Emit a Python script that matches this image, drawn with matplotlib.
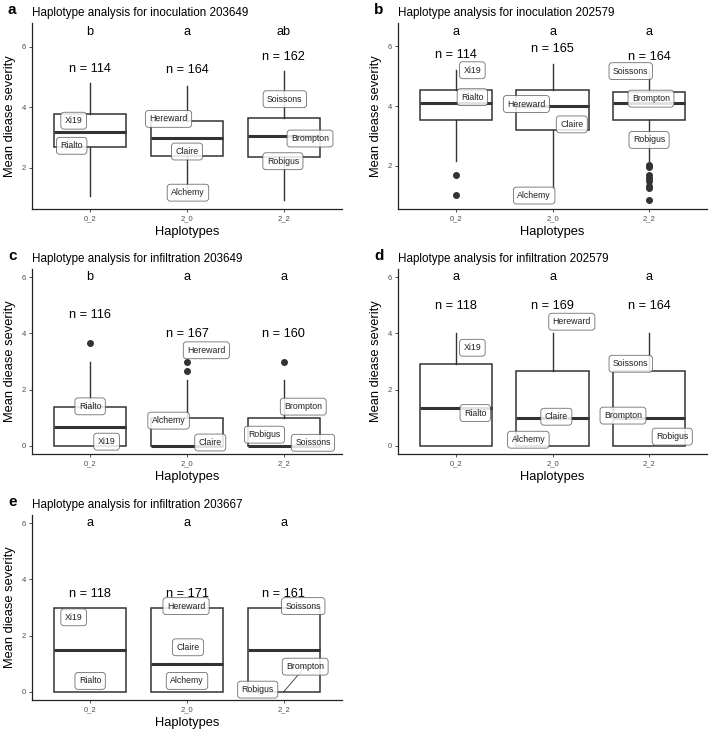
import matplotlib
matplotlib.use('Agg')
import matplotlib.pyplot as plt

plt.rcParams['font.family'] = ['Liberation Sans', 'DejaVu Sans']

haplotypes = ['0_2', '2_0', '2_2']
cultivars = ['Xi19', 'Rialto', 'Hereward', 'Claire', 'Alchemy', 'Soissons', 'Brompton', 'Robigus']

# ---- panel a ----
a_title = 'Haplotype analysis for inoculation 203649'
a_whislo = [1.07, 1.21, 0.92]
a_q1 = [2.68, 2.37, 2.34]
a_med = [3.19, 2.97, 3.05]
a_q3 = [3.76, 3.54, 3.65]
a_whishi = [4.79, 4.70, 5.18]
a_fliers = [[], [], []]
a_letters = ['b', 'a', 'ab']
a_letter_y = [6.48, 6.48, 6.48]
a_n = [114, 164, 162]
a_n_y = [5.25, 5.21, 5.65]
a_lab_x = [0.83, 0.81, 1.81, 2.00, 2.01, 3.01, 3.27, 2.99]
a_lab_y = [3.55, 2.72, 3.61, 2.53, 1.17, 4.26, 2.96, 2.21]
a_ylim = [0.63, 6.78]

# ---- panel b ----
b_title = 'Haplotype analysis for inoculation 202579'
b_whislo = [2.15, 1.25, 2.16]
b_q1 = [3.53, 3.21, 3.53]
b_med = [4.12, 4.01, 4.10]
b_q3 = [4.54, 4.55, 4.46]
b_whishi = [5.22, 5.42, 5.16]
b_fliers = [[1.70, 1.03], [], [2.04, 1.96, 1.71, 1.60, 1.50, 1.33, 1.25, 0.85]]
b_letters = ['a', 'a', 'a']
b_letter_y = [6.47, 6.47, 6.47]
b_n = [114, 165, 164]
b_n_y = [5.70, 5.91, 5.64]
b_lab_x = [1.17, 1.17, 1.73, 2.20, 1.81, 2.81, 3.02, 3.00]
b_lab_y = [5.20, 4.30, 4.07, 3.39, 1.01, 5.17, 4.25, 2.87]
b_ylim = [0.56, 6.78]

# ---- panel c ----
c_title = 'Haplotype analysis for infiltration 203649'
c_whislo = [0.0, 0.0, 0.0]
c_q1 = [0.0, 0.0, 0.0]
c_med = [0.67, 0.0, 0.0]
c_q3 = [1.38, 1.0, 1.0]
c_whishi = [3.0, 2.33, 2.33]
c_fliers = [[3.67], [3.0, 2.67], [3.0]]
c_letters = ['b', 'a', 'a']
c_letter_y = [6.0, 6.0, 6.0]
c_n = [116, 167, 160]
c_n_y = [4.66, 3.99, 3.99]
c_lab_x = [1.17, 1.00, 2.20, 2.24, 1.81, 3.30, 3.20, 2.80]
c_lab_y = [0.14, 1.40, 3.40, 0.11, 0.89, 0.10, 1.39, 0.39]
c_ylim = [-0.3, 6.3]

# ---- panel d ----
d_title = 'Haplotype analysis for infiltration 202579'
d_whislo = [0.0, 0.0, 0.0]
d_q1 = [0.0, 0.0, 0.0]
d_med = [1.33, 1.0, 1.0]
d_q3 = [2.92, 2.67, 2.67]
d_whishi = [4.0, 4.0, 4.0]
d_fliers = [[], [], []]
d_letters = ['a', 'a', 'a']
d_letter_y = [6.0, 6.0, 6.0]
d_n = [118, 169, 164]
d_n_y = [4.99, 4.99, 4.99]
d_lab_x = [1.17, 1.20, 2.20, 2.04, 1.75, 2.81, 2.73, 3.24]
d_lab_y = [3.49, 1.16, 4.42, 1.03, 0.21, 2.92, 1.07, 0.32]
d_ylim = [-0.3, 6.3]

# ---- panel e ----
e_title = 'Haplotype analysis for infiltration 203667'
e_whislo = [0.0, 0.0, 0.0]
e_q1 = [0.0, 0.0, 0.0]
e_med = [1.5, 1.0, 1.5]
e_q3 = [3.0, 3.0, 3.0]
e_whishi = [3.0, 3.0, 3.0]
e_fliers = [[], [], []]
e_letters = ['a', 'a', 'a']
e_letter_y = [6.0, 6.0, 6.0]
e_n = [118, 171, 161]
e_n_y = [3.48, 3.48, 3.48]
e_lab_x = [0.83, 1.00, 1.99, 2.01, 2.00, 3.20, 3.22, 2.73]
e_lab_y = [2.65, 0.38, 3.05, 1.58, 0.38, 3.05, 0.89, 0.07]
e_ylim = [-0.3, 6.3]
e_segments = {'Brompton': (3.0, 0.0)}

panels = [
    dict(tag='a', title=a_title, whislo=a_whislo, q1=a_q1, med=a_med, q3=a_q3, whishi=a_whishi,
         fliers=a_fliers, letters=a_letters, letter_y=a_letter_y, n=a_n, n_y=a_n_y,
         lab_x=a_lab_x, lab_y=a_lab_y, ylim=a_ylim, seg={}, rect=(32, 342, 23, 209)),
    dict(tag='b', title=b_title, whislo=b_whislo, q1=b_q1, med=b_med, q3=b_q3, whishi=b_whishi,
         fliers=b_fliers, letters=b_letters, letter_y=b_letter_y, n=b_n, n_y=b_n_y,
         lab_x=b_lab_x, lab_y=b_lab_y, ylim=b_ylim, seg={}, rect=(398, 707, 23, 209)),
    dict(tag='c', title=c_title, whislo=c_whislo, q1=c_q1, med=c_med, q3=c_q3, whishi=c_whishi,
         fliers=c_fliers, letters=c_letters, letter_y=c_letter_y, n=c_n, n_y=c_n_y,
         lab_x=c_lab_x, lab_y=c_lab_y, ylim=c_ylim, seg={}, rect=(32, 342, 269, 454)),
    dict(tag='d', title=d_title, whislo=d_whislo, q1=d_q1, med=d_med, q3=d_q3, whishi=d_whishi,
         fliers=d_fliers, letters=d_letters, letter_y=d_letter_y, n=d_n, n_y=d_n_y,
         lab_x=d_lab_x, lab_y=d_lab_y, ylim=d_ylim, seg={}, rect=(398, 707, 269, 454)),
    dict(tag='e', title=e_title, whislo=e_whislo, q1=e_q1, med=e_med, q3=e_q3, whishi=e_whishi,
         fliers=e_fliers, letters=e_letters, letter_y=e_letter_y, n=e_n, n_y=e_n_y,
         lab_x=e_lab_x, lab_y=e_lab_y, ylim=e_ylim, seg=e_segments, rect=(32, 342, 515, 700)),
]

W, H = 709, 731
fig = plt.figure(figsize=(W / 100, H / 100), dpi=100)
dark = '#333333'

for p in panels:
    l, r, t, b = p['rect']
    ax = fig.add_axes([l / W, 1 - b / H, (r - l) / W, (b - t) / H])
    stats = []
    for i in range(3):
        stats.append(dict(whislo=p['whislo'][i], q1=p['q1'][i], med=p['med'][i],
                          q3=p['q3'][i], whishi=p['whishi'][i], fliers=p['fliers'][i]))
    ax.bxp(stats, positions=[1, 2, 3], widths=0.75, showcaps=False, showfliers=True,
           patch_artist=True,
           boxprops=dict(facecolor='white', edgecolor=dark, linewidth=1.1),
           medianprops=dict(color=dark, linewidth=2.2, solid_capstyle='butt'),
           whiskerprops=dict(color=dark, linewidth=1.0),
           flierprops=dict(marker='o', markerfacecolor=dark, markeredgecolor=dark,
                           markersize=4, linestyle='none'))
    for i in range(3):
        ax.text(i + 1, p['letter_y'][i], p['letters'][i], ha='center', va='center',
                fontsize=9.2, color='black')
        ax.text(i + 1, p['n_y'][i], f"n = {p['n'][i]}", ha='center', va='center',
                fontsize=9.2, color='black')
    for j, name in enumerate(cultivars):
        if name in p['seg']:
            sx, sy = p['seg'][name]
            ax.plot([p['lab_x'][j], sx], [p['lab_y'][j], sy], color=dark, lw=0.6, zorder=4)
        ax.text(p['lab_x'][j], p['lab_y'][j], name, ha='center', va='center',
                fontsize=6.3, color='#222222', zorder=5,
                bbox=dict(boxstyle='round,pad=0.45,rounding_size=0.35', facecolor='white',
                          edgecolor='#555555', linewidth=0.6, alpha=0.85))
    ax.set_xticks([1, 2, 3])
    ax.set_xticklabels(haplotypes)
    ax.set_yticks([0, 2, 4, 6])
    ax.set_xlim(0.4, 3.6)
    ax.set_ylim(*p['ylim'])
    ax.tick_params(labelsize=5.5, labelcolor='#4d4d4d', length=2.5, width=0.6,
                   color=dark, pad=2)
    for s in ['top', 'right']:
        ax.spines[s].set_visible(False)
    for s in ['left', 'bottom']:
        ax.spines[s].set_linewidth(0.9)
        ax.spines[s].set_color('#222222')
    ax.set_xlabel('Haplotypes', fontsize=9.3, labelpad=3)
    ax.set_ylabel('Mean diease severity', fontsize=9.3, labelpad=4)
    ax.set_title(p['title'], fontsize=8.4, loc='left', pad=5)
    fig.text((l - 24) / W, 1 - (t - 13) / H, p['tag'], fontsize=11, fontweight='bold',
             ha='left', va='center')

fig.savefig('out.png', dpi=100)
